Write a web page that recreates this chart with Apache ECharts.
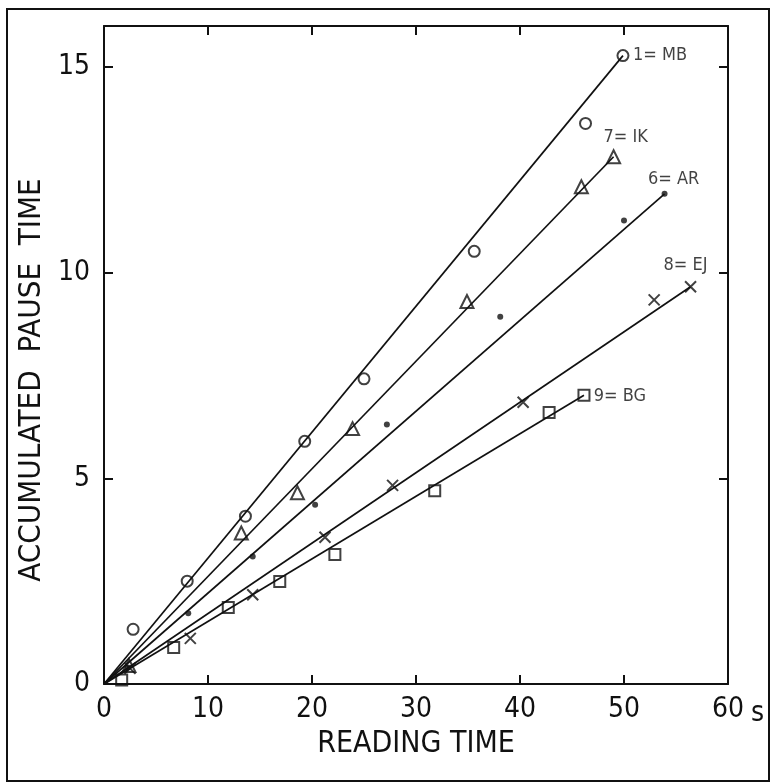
<!DOCTYPE html>
<html>
<head>
<meta charset="utf-8">
<script src="https://cdn.jsdelivr.net/npm/echarts@6/dist/echarts.min.js"></script>
<style>
  html, body { margin: 0; padding: 0; background: #fff; }
  #chart { width: 771px; height: 783px; }
</style>
</head>
<body>
<div id="chart"></div>
<script>
// reading time (s) / accumulated pause time, one pair of arrays per reader
const mbX = [2.8, 8.0, 13.6, 19.3, 25.0, 35.6, 46.3, 49.9]
const mbY = [1.33, 2.50, 4.08, 5.90, 7.42, 10.52, 13.63, 15.28]
const ikX = [2.4, 13.2, 18.6, 23.9, 34.9, 45.9, 49.0]
const ikY = [0.45, 3.67, 4.65, 6.21, 9.30, 12.09, 12.82]
const arX = [2.3, 8.1, 14.3, 20.3, 27.2, 38.1, 50.0, 53.9]
const arY = [0.40, 1.72, 3.10, 4.36, 6.31, 8.93, 11.27, 11.92]
const ejX = [2.5, 8.3, 14.3, 21.25, 27.75, 40.3, 52.9, 56.4]
const ejY = [0.38, 1.11, 2.17, 3.57, 4.83, 6.85, 9.34, 9.66]
const bgX = [1.7, 6.7, 11.95, 16.9, 22.2, 31.8, 42.8, 46.15]
const bgY = [0.10, 0.89, 1.86, 2.49, 3.15, 4.70, 6.60, 7.02]

// fitted lines run from the origin to these end points
const lineStart = [0, 0]
const lineEnds = [[49.9, 15.28], [49.0, 12.82], [53.9, 11.92], [56.4, 9.66], [46.15, 7.02]]

const readerNames = ['1= MB', '7= IK', '6= AR', '8= EJ', '9= BG']
const xTicks = [0, 10, 20, 30, 40, 50, 60]
const yTicks = [0, 5, 10, 15]

const FONT = "'Liberation Sans Narrow', 'DejaVu Sans Condensed', sans-serif"
const INK = '#111111'

const chart = echarts.init(document.getElementById('chart'), null, { renderer: 'canvas' })

const xs = [mbX, ikX, arX, ejX, bgX]
const ys = [mbY, ikY, arY, ejY, bgY]
const symbols = ['circle', 'triangle', 'circle', 'path://M0,0L10,10M0,10L10,0', 'rect']
const sizes = [11, 13, 6, 11, 11]
const hollow = [true, true, false, true, true]
const labelOffsets = [[37, 0], [12, -19], [9, -14], [-5, -21], [36, 1]]

function pointsOf(i) {
  const n = xs[i].length
  return xs[i].map((x, k) => {
    const item = { value: [x, ys[i][k]] }
    if (k === n - 1) {
      item.label = {
        show: true,
        position: 'inside',
        offset: labelOffsets[i],
        formatter: readerNames[i],
        fontFamily: FONT,
        fontSize: 18,
        color: INK
      }
    }
    return item
  })
}

const series = []
lineEnds.forEach((end, i) => {
  series.push({
    type: 'line',
    data: [lineStart, end],
    symbol: 'none',
    lineStyle: { color: INK, width: 1.7 },
    silent: true,
    z: 2
  })
})
xs.forEach((_, i) => {
  series.push({
    type: 'scatter',
    name: readerNames[i],
    data: pointsOf(i),
    symbol: symbols[i],
    symbolSize: sizes[i],
    itemStyle: hollow[i]
      ? { color: 'rgba(0,0,0,0)', borderColor: INK, borderWidth: 2 }
      : { color: INK },
    z: 3
  })
})

function tick() {
  return { show: true, inside: true, length: 9, lineStyle: { color: INK, width: 2 } }
}
function axLine() {
  return { show: true, onZero: false, lineStyle: { color: INK, width: 2 } }
}

const option = {
  animation: false,
  backgroundColor: '#fff',
  grid: { left: 104, top: 26, right: 43, bottom: 99 },
  xAxis: [
    {
      type: 'value', position: 'bottom', min: 0, max: 60, interval: 10,
      name: 'READING TIME', nameLocation: 'middle', nameGap: 44,
      nameTextStyle: { fontFamily: FONT, fontSize: 30, color: INK },
      axisLine: axLine(), axisTick: tick(),
      axisLabel: {
        margin: 12, fontFamily: FONT, fontSize: 28, color: INK,
        formatter: v => (xTicks.indexOf(v) >= 0 ? String(v) : '')
      },
      splitLine: { show: false }
    },
    {
      type: 'value', position: 'top', min: 0, max: 60, interval: 10,
      axisLine: axLine(), axisTick: tick(),
      axisLabel: { show: false }, splitLine: { show: false }
    }
  ],
  yAxis: [
    {
      type: 'value', position: 'left', min: 0, max: 16, interval: 5,
      name: 'ACCUMULATED  PAUSE  TIME', nameLocation: 'middle', nameGap: 52,
      nameTextStyle: { fontFamily: FONT, fontSize: 31, color: INK, padding: [0, 50, 0, 0] },
      axisLine: axLine(), axisTick: tick(),
      axisLabel: {
        margin: 14, fontFamily: FONT, fontSize: 28, color: INK,
        formatter: v => (yTicks.indexOf(v) >= 0 ? String(v) : '')
      },
      splitLine: { show: false }
    },
    {
      type: 'value', position: 'right', min: 0, max: 16, interval: 5,
      axisLine: axLine(), axisTick: tick(),
      axisLabel: { show: false }, splitLine: { show: false }
    }
  ],
  graphic: [
    {
      type: 'rect',
      shape: { x: 7, y: 9, width: 762, height: 772 },
      style: { fill: 'none', stroke: INK, lineWidth: 2 },
      silent: true
    },
    {
      type: 'text',
      left: 751, top: 700,
      style: { text: 's', fontFamily: FONT, fontSize: 28, fill: INK },
      silent: true
    }
  ],
  series: series
}

chart.setOption(option)
</script>
</body>
</html>
